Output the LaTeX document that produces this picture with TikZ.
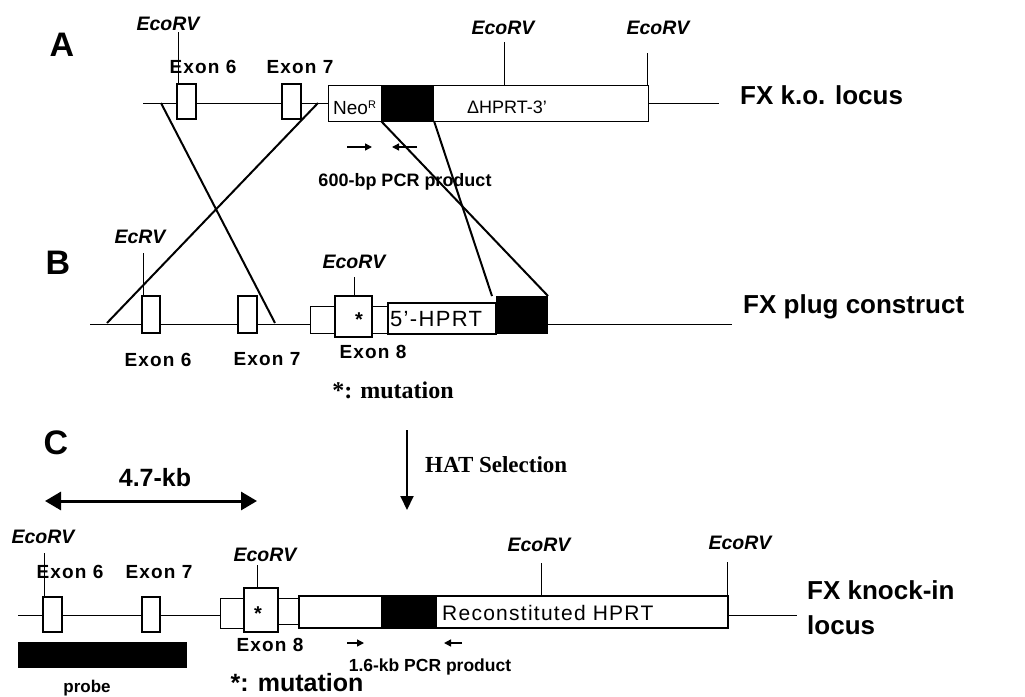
\documentclass[tikz,border=0pt]{standalone}
\usepackage{fontspec}
\setmainfont{Liberation Serif}
\setsansfont{Liberation Sans}
\newfontfamily\widesans[LetterSpace=6]{Liberation Sans}
\usepackage{tikz}
\usetikzlibrary{arrows.meta}
\newcommand{\pxfont}[1]{\fontsize{#1}{#1}\selectfont}

\begin{document}
\begin{tikzpicture}[x=1pt,y=-1pt,
  dna/.style={line width=1pt},
  exon/.style={draw,fill=white,line width=1.6pt},
  seg/.style={draw,fill=white,line width=1pt},
  cross/.style={line width=2pt},
  site/.style={line width=1pt},
  every node/.style={inner sep=0pt},
  enz/.style={font=\sffamily\bfseries\itshape\pxfont{19.5}},
  exlbl/.style={font=\widesans\bfseries\pxfont{19}},
  locus/.style={font=\sffamily\bfseries\pxfont{26},anchor=west,align=left},
  panel/.style={font=\sffamily\bfseries\pxfont{34}},
  pcr/.style={font=\sffamily\bfseries\pxfont{18}},
  primer/.style={line width=1.4pt,-{Triangle[length=7pt,width=7pt]}}]
\useasboundingbox (0,0) rectangle (1025,696);

% A: knock-out locus
\node[panel] (labA) at (62,45) {A};
\draw[dna] (143,103) -- (328,103);
\draw[dna] (648,103) -- (719,103);
\draw[site] (178,32) -- (178,84);
\draw[site] (504,42) -- (504,85);
\draw[site] (647,53) -- (647,85);
\draw[exon] (177,84) rectangle (196,119);
\draw[exon] (282,84) rectangle (301,119);
\draw[seg] (328,85) rectangle (648,121);
\fill (381,85) rectangle (434,121);
\node[enz] (eA1) at (168,24) {EcoRV};
\node[enz] (eA2) at (503,28) {EcoRV};
\node[enz] (eA3) at (658,28) {EcoRV};
\node[exlbl] (xA6) at (203,67) {Exon 6};
\node[exlbl] (xA7) at (300,67) {Exon 7};
\node[font=\sffamily\pxfont{19},anchor=west] (neo) at (333,108) {Neo\textsuperscript{\pxfont{11}R}};
\node[font=\sffamily\pxfont{18},anchor=west] (dhprt) at (467,107) {ΔHPRT-3’};
\node[locus] (locA) at (740,95) {FX k.o. locus};
\coordinate (pA1) at (347,147);
\coordinate (pA2) at (372,147);
\coordinate (pA3) at (417,147);
\coordinate (pA4) at (392,147);
\draw[primer] (pA1) -- (pA2);
\draw[primer] (pA3) -- (pA4);
\node[pcr] (pcrA) at (405,182) {600-bp PCR product};

% crossover lines
\coordinate (cA1) at (161,103);
\coordinate (cA2) at (318,103);
\coordinate (cA3) at (381,121);
\coordinate (cA4) at (434,121);
\coordinate (cB1) at (275,323);
\coordinate (cB2) at (107,323);
\coordinate (cB3) at (548,296);
\coordinate (cB4) at (492,296);
\draw[cross] (cA1) -- (cB1);
\draw[cross] (cA2) -- (cB2);
\draw[cross] (cA3) -- (cB3);
\draw[cross] (cA4) -- (cB4);

% B: plug construct
\node[panel] (labB) at (58,263) {B};
\draw[dna] (90,324) -- (310,324);
\draw[dna] (548,324) -- (732,324);
\draw[site] (143,253) -- (143,296);
\draw[site] (354,277) -- (354,296);
\draw[exon] (142,296) rectangle (160,333);
\draw[exon] (238,296) rectangle (257,333);
\draw[seg] (310,306) rectangle (335,333);
\draw[seg] (372,306) rectangle (388,333);
\draw[exon] (335,296) rectangle (372,337);
\draw[exon] (388,303) rectangle (496,334);
\fill (496,296) rectangle (548,334);
\node[font=\sffamily\bfseries\pxfont{20}] (astB) at (359,320) {*};
\node[enz] (eB1) at (140,237) {EcRV};
\node[enz] (eB2) at (354,262) {EcoRV};
\node[font=\widesans\pxfont{22},anchor=west] (hprt5) at (390,319) {5’-HPRT};
\node[exlbl] (xB6) at (158,360) {Exon 6};
\node[exlbl] (xB7) at (267,359) {Exon 7};
\node[exlbl] (xB8) at (373,352) {Exon 8};
\node[font=\rmfamily\bfseries\pxfont{24}] (mutB) at (393,390) {*: mutation};
\node[locus] (locB) at (743,307) {FX plug construct};

% HAT selection
\coordinate (hat1) at (407,430);
\coordinate (hat2) at (407,510);
\draw[line width=2pt,-{Triangle[length=14pt,width=13pt]}] (hat1) -- (hat2);
\node[font=\rmfamily\bfseries\pxfont{23},anchor=west] (hat) at (425,465) {HAT Selection};

% C: knock-in locus
\node[panel] (labC) at (56,443) {C};
\node[font=\sffamily\bfseries\pxfont{25}] (kb) at (155,478) {4.7-kb};
\coordinate (kb1) at (45,501);
\coordinate (kb2) at (257,501);
\draw[line width=3pt,{Triangle[length=16pt,width=18pt]}-{Triangle[length=16pt,width=18pt]}] (kb1) -- (kb2);
\draw[dna] (18,615) -- (220,615);
\draw[dna] (728,615) -- (797,615);
\draw[site] (44,553) -- (44,597);
\draw[site] (257,565) -- (257,588);
\draw[site] (541,563) -- (541,596);
\draw[site] (727,562) -- (727,596);
\draw[exon] (43,597) rectangle (62,632);
\draw[exon] (142,597) rectangle (160,632);
\fill (18,642) rectangle (187,668);
\draw[seg] (220,598) rectangle (244,628);
\draw[seg] (278,598) rectangle (299,624);
\draw[exon] (244,588) rectangle (278,632);
\draw[exon] (299,596) rectangle (728,628);
\fill (381,596) rectangle (437,628);
\node[font=\sffamily\bfseries\pxfont{20}] (astC) at (258,614) {*};
\node[enz] (eC1) at (43,537) {EcoRV};
\node[enz] (eC2) at (265,555) {EcoRV};
\node[enz] (eC3) at (539,545) {EcoRV};
\node[enz] (eC4) at (740,543) {EcoRV};
\node[exlbl] (xC6) at (70,572) {Exon 6};
\node[exlbl] (xC7) at (159,572) {Exon 7};
\node[exlbl] (xC8) at (270,645) {Exon 8};
\node[font=\widesans\pxfont{21},anchor=west] (rhprt) at (442,613) {Reconstituted HPRT};
\node[font=\sffamily\bfseries\pxfont{17}] (probe) at (87,688) {probe};
\coordinate (pC1) at (347,643);
\coordinate (pC2) at (364,643);
\coordinate (pC3) at (462,643);
\coordinate (pC4) at (444,643);
\draw[primer] (pC1) -- (pC2);
\draw[primer] (pC3) -- (pC4);
\node[pcr,font=\sffamily\bfseries\pxfont{17.5}] (pcrC) at (430,667) {1.6-kb PCR product};
\node[font=\sffamily\bfseries\pxfont{25}] (mutC) at (297,683) {*: mutation};
\node[locus,font=\sffamily\bfseries\fontsize{26}{35}\selectfont] (locC) at (807,608) {FX knock-in\\locus};
\end{tikzpicture}
\end{document}
